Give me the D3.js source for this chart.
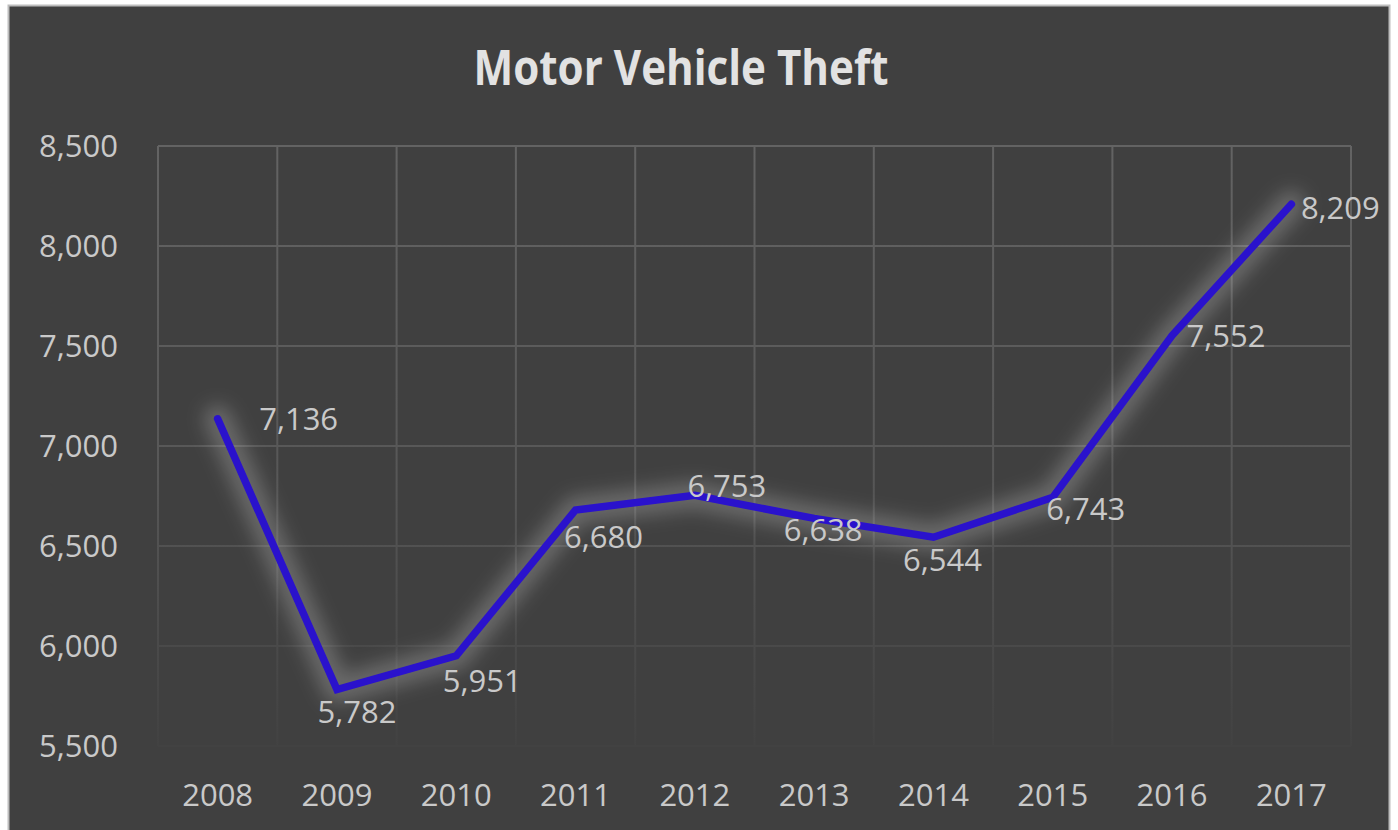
<!DOCTYPE html>
<html>
<head>
<meta charset="utf-8">
<script src="https://cdn.jsdelivr.net/npm/d3@7"></script>
<style>
  html, body { margin: 0; padding: 0; background: #ffffff; }
  svg { display: block; }
</style>
</head>
<body>
<script>
const years = ["2008", "2009", "2010", "2011", "2012", "2013", "2014", "2015", "2016", "2017"]
const thefts = [7136, 5782, 5951, 6680, 6753, 6638, 6544, 6743, 7552, 8209]
const yTicks = [5500, 6000, 6500, 7000, 7500, 8000, 8500]
const title = "Motor Vehicle Theft"

// where each data label sits relative to its point (px)
const labelOffsets = [[81, 0], [20, 23], [26, 25], [28, 27], [32, -9],
                      [9, 12], [9, 23], [33, 12], [54, 1], [49, 4]]

const width = 1398
const height = 830
const plot = {left: 158, right: 1351, top: 146, bottom: 746}
const font = "'Open Sans', 'DejaVu Sans', sans-serif"
const textColor = "#c9c9c9"
const labelSize = "31px"

const svg = d3.select("body").append("svg")
    .attr("width", width)
    .attr("height", height)

const defs = svg.append("defs")

const grad = defs.append("linearGradient")
    .attr("id", "gridFade")
    .attr("gradientUnits", "userSpaceOnUse")
    .attr("x1", 0).attr("y1", plot.top)
    .attr("x2", 0).attr("y2", plot.bottom)
grad.append("stop").attr("offset", "0%").attr("stop-color", "#636363")
grad.append("stop").attr("offset", "55%").attr("stop-color", "#575757")
grad.append("stop").attr("offset", "100%").attr("stop-color", "#424242")

const glow = defs.append("filter")
    .attr("id", "glow")
    .attr("x", "-20%").attr("y", "-20%")
    .attr("width", "140%").attr("height", "140%")
glow.append("feGaussianBlur").attr("stdDeviation", 9)

// chart background with thin frame
svg.append("rect")
    .attr("x", 8.5).attr("y", 5.5)
    .attr("width", 1381).attr("height", 830)
    .attr("fill", "#404040")
    .attr("stroke", "#bdbdbd")
    .attr("stroke-width", 2)

const x = d3.scaleBand()
    .domain(years)
    .range([plot.left, plot.right])

const y = d3.scaleLinear()
    .domain([5500, 8500])
    .range([plot.bottom, plot.top])

const cx = d => x(d) + x.bandwidth() / 2

// gridlines
const grid = svg.append("g")
    .attr("stroke", "url(#gridFade)")
    .attr("stroke-width", 2)

grid.selectAll("line.h")
    .data(yTicks)
    .enter().append("line")
    .attr("class", "h")
    .attr("x1", plot.left).attr("x2", plot.right)
    .attr("y1", d => y(d)).attr("y2", d => y(d))

const bounds = years.map(d => x(d)).concat([plot.right])
grid.selectAll("line.v")
    .data(bounds)
    .enter().append("line")
    .attr("class", "v")
    .attr("x1", d => d).attr("x2", d => d)
    .attr("y1", plot.top).attr("y2", plot.bottom)

// y axis
const yAxis = svg.append("g")
    .attr("transform", `translate(${plot.left - 40},0)`)
    .call(d3.axisLeft(y).tickValues(yTicks).tickSize(0).tickFormat(d3.format(",")))
yAxis.select(".domain").remove()
yAxis.selectAll("text")
    .attr("x", 0)
    .attr("dy", "0.35em")
    .attr("fill", textColor)
    .style("font-family", font)
    .style("font-size", labelSize)

// x axis
const xAxis = svg.append("g")
    .attr("transform", `translate(0,${plot.bottom + 49})`)
    .call(d3.axisBottom(x).tickSize(0))
xAxis.select(".domain").remove()
xAxis.selectAll("text")
    .attr("y", 0)
    .attr("dy", "0.35em")
    .attr("fill", textColor)
    .style("font-family", font)
    .style("font-size", labelSize)

// line with soft glow
const line = d3.line()
    .x((d, i) => cx(years[i]))
    .y(d => y(d))

svg.append("path")
    .datum(thefts)
    .attr("d", line)
    .attr("fill", "none")
    .attr("stroke", "#d0d0d0")
    .attr("stroke-opacity", 0.28)
    .attr("stroke-width", 28)
    .attr("stroke-linejoin", "round")
    .attr("stroke-linecap", "round")
    .attr("filter", "url(#glow)")

svg.append("path")
    .datum(thefts)
    .attr("d", line)
    .attr("fill", "none")
    .attr("stroke", "#2a12cc")
    .attr("stroke-width", 7.5)
    .attr("stroke-linejoin", "miter")
    .attr("stroke-linecap", "round")

// data labels
svg.append("g")
    .selectAll("text")
    .data(thefts)
    .enter().append("text")
    .attr("x", (d, i) => cx(years[i]) + labelOffsets[i][0])
    .attr("y", (d, i) => y(d) + labelOffsets[i][1])
    .attr("dy", "0.35em")
    .attr("text-anchor", "middle")
    .attr("fill", textColor)
    .style("font-family", font)
    .style("font-size", labelSize)
    .text(d => d3.format(",")(d))

// title
svg.append("text")
    .attr("x", 681)
    .attr("y", 85)
    .attr("text-anchor", "middle")
    .attr("fill", "#e2e2e2")
    .attr("textLength", 415)
    .attr("lengthAdjust", "spacingAndGlyphs")
    .style("font-family", font)
    .style("font-weight", "bold")
    .style("font-size", "49px")
    .text(title)
</script>
</body>
</html>
